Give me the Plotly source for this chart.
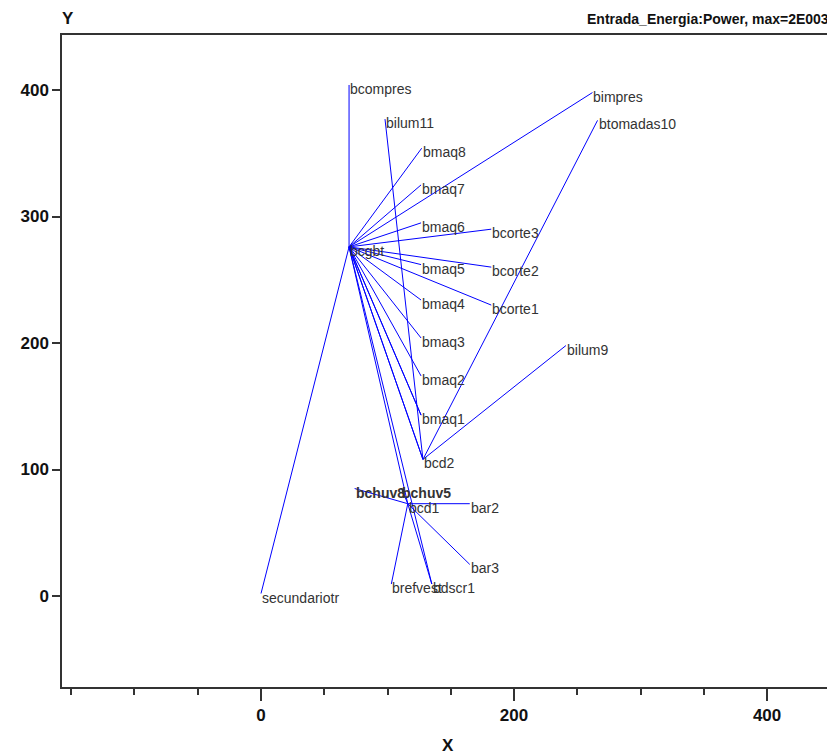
import plotly.graph_objects as go

# Node names and positions (data units)
node_names = ["bcgbt", "bcompres", "bilum11", "bmaq8", "bmaq7", "bmaq6", "bmaq5", "bmaq4",
              "bmaq3", "bmaq2", "bmaq1", "bcd2", "bcorte3", "bcorte2", "bcorte1", "bimpres",
              "btomadas10", "bilum9", "bcd1", "bchuv8", "bchuv5", "bar2", "bar3", "brefvest",
              "bdscr1", "secundariotr"]
node_x = [69.6, 69.6, 98, 127, 126.5, 126.5, 126.5, 126.5,
          126.5, 126.5, 126.5, 128, 182, 182, 182, 262,
          266, 241, 116, 74, 111, 165, 165, 103,
          135, 0]
node_y = [276, 404, 377, 354, 325, 295, 262, 234,
          204, 174, 143, 108, 290, 260, 230, 398,
          376, 198, 73, 85, 85, 73, 25, 9.5,
          9.5, 2]
bold_labels = ["bchuv8", "bchuv5"]

edge_from = ["bcgbt"] * 19 + ["bcd2"] * 3 + ["bcd1"] * 6
edge_to = ["bcompres", "bmaq8", "bmaq7", "bmaq6", "bmaq5", "bmaq4", "bmaq3", "bmaq2", "bmaq1",
           "bcorte3", "bcorte2", "bcorte1", "bimpres", "bcd2", "bcd1", "bdscr1", "secundariotr",
           "bmaq1", "bcd2",
           "bilum11", "btomadas10", "bilum9",
           "bchuv8", "bchuv5", "bar2", "bar3", "brefvest", "bdscr1"]

x_ticks = [0, 200, 400]
y_ticks = [0, 100, 200, 300, 400]
title_text = "Entrada_Energia:Power, max=2E003"

pos = {n: (x, y) for n, x, y in zip(node_names, node_x, node_y)}
lx, ly = [], []
for a, b in zip(edge_from, edge_to):
    lx += [pos[a][0], pos[b][0], None]
    ly += [pos[a][1], pos[b][1], None]

fig = go.Figure()
fig.add_trace(go.Scatter(x=lx, y=ly, mode="lines",
                         line=dict(color="#0000ff", width=1), hoverinfo="skip",
                         showlegend=False))

for n, x, y in zip(node_names, node_x, node_y):
    fig.add_annotation(x=x, y=y, text=n, showarrow=False, xanchor="left", yanchor="middle",
                       yshift=-4, xshift=-1,
                       font=dict(family="Liberation Sans, Arial", size=14, color="#333333",
                                 weight="bold" if n in bold_labels else "normal"))

axis_font = dict(family="Liberation Sans, Arial", size=17, color="#111111", weight="bold")
head_font = dict(family="Liberation Sans, Arial", size=14, color="#111111", weight="bold")

fig.add_annotation(xref="paper", yref="paper", x=0, y=1, yshift=5, xshift=-2,
                   xanchor="left", yanchor="bottom", text="Y", showarrow=False,
                   font=dict(family="Liberation Sans, Arial", size=17, color="#111111",
                             weight="bold"))
fig.add_annotation(xref="paper", yref="paper", x=1, y=1, yshift=6, xshift=-3,
                   xanchor="right", yanchor="bottom", text=title_text, showarrow=False,
                   font=head_font)
fig.add_annotation(xref="paper", yref="paper", x=0.5, y=0, yshift=-47,
                   xanchor="center", yanchor="top", text="X", showarrow=False,
                   font=axis_font)

fig.update_xaxes(range=[-157.3, 452.9], tickvals=x_ticks, ticks="outside", ticklen=12,
                 tickcolor="#333333", tickwidth=1.5, automargin=False,
                 minor=dict(dtick=50, tick0=0, ticks="outside", ticklen=6,
                            tickcolor="#333333", tickwidth=1.5),
                 showline=True, linecolor="#333333", linewidth=1.5, mirror=True,
                 showgrid=False, zeroline=False, tickfont=axis_font)
fig.update_yaxes(range=[-71.9, 443.5], tickvals=y_ticks, ticks="outside", ticklen=8,
                 tickcolor="#333333", tickwidth=1.5, automargin=False,
                 showline=True, linecolor="#333333", linewidth=1.5, mirror=True,
                 showgrid=False, zeroline=False, tickfont=axis_font)

# page body adds an 8px offset; size the figure so the plot box lands where the reference has it
fig.update_layout(width=827, height=746, plot_bgcolor="white", paper_bgcolor="white",
                  margin=dict(l=54, r=1, t=27, b=67), showlegend=False)

fig.write_html("out.html")
